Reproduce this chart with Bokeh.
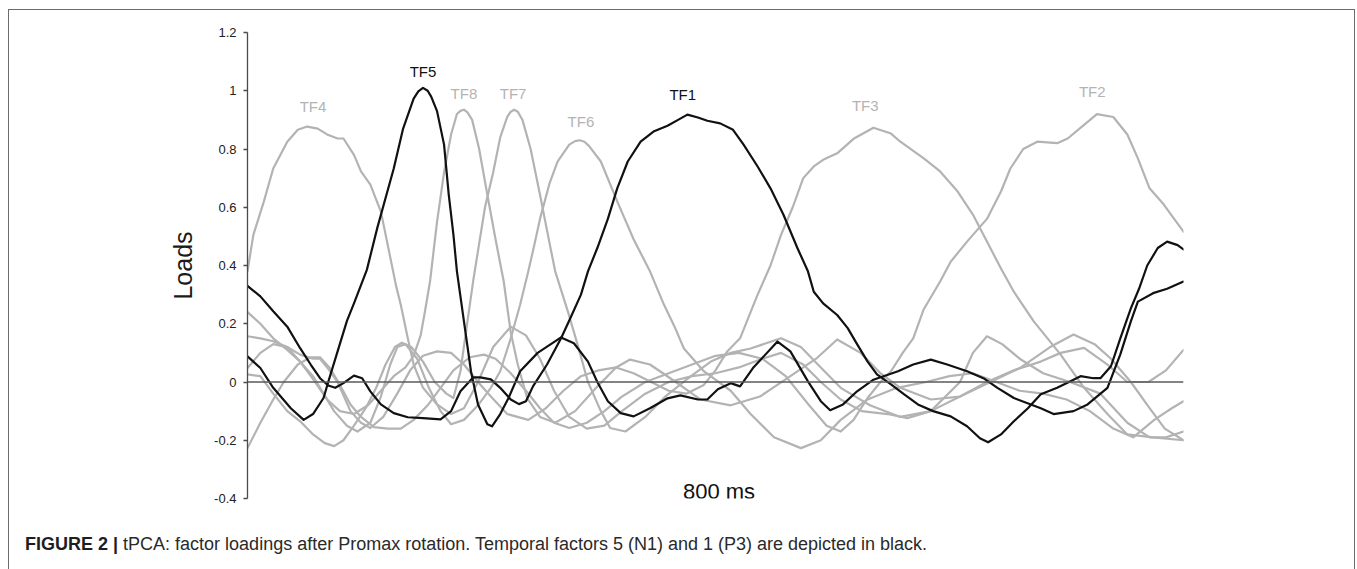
from bokeh.plotting import figure
from bokeh.models import Range1d, FixedTicker, Span, ColumnDataSource, Div
from bokeh.layouts import column
from bokeh.core.properties import value
from bokeh.embed import file_html
from bokeh.resources import INLINE

# ---- data: time (ms) and factor loadings ----
tf1_ms = [0,11,22,34,45,54,62,69,75,82,91,98,105,114,125,137,150,165,174,182,193,199,208,216,225,232,238,244,256,268,276,285,291,299,308,316,325,336,347,359,368,376,385,393,404,415,424,436,447,458,470,479,484,492,504,513,521,530,538,550,561,573,586,601,615,626,633,644,655,667,678,692,703,712,723,729,738,746,755,762,769,778,786,795,800]
tf1_val = [0.33,0.294,0.243,0.19,0.116,0.06,0.013,-0.012,-0.02,-0.004,0.022,0.013,-0.032,-0.077,-0.107,-0.121,-0.124,-0.128,-0.1,-0.032,0.016,0.016,0.009,-0.02,-0.06,-0.076,-0.066,-0.015,0.06,0.15,0.22,0.3,0.38,0.46,0.56,0.665,0.757,0.825,0.86,0.88,0.9,0.918,0.908,0.897,0.888,0.866,0.815,0.74,0.665,0.575,0.46,0.38,0.31,0.27,0.23,0.185,0.13,0.07,0.026,-0.008,-0.042,-0.077,-0.1,-0.118,-0.152,-0.193,-0.207,-0.18,-0.135,-0.09,-0.042,-0.02,0.002,0.02,0.013,0.013,0.054,0.15,0.253,0.32,0.40,0.46,0.482,0.47,0.455]

tf5_ms = [0,11,22,37,48,56,65,69,77,85,91,102,111,125,133,142,146,150,154,157,162,168,172,176,179,185,191,197,205,209,216,223,233,248,268,279,291,299,308,319,330,344,359,370,385,393,402,413,421,432,453,464,479,490,498,509,521,535,556,569,584,598,615,629,641,655,678,689,706,718,735,746,755,761,774,786,800]
tf5_val = [0.088,0.048,-0.02,-0.09,-0.13,-0.11,-0.055,0.0,0.105,0.21,0.27,0.385,0.53,0.733,0.87,0.973,0.998,1.01,1.0,0.98,0.93,0.815,0.643,0.506,0.38,0.208,0.037,-0.077,-0.145,-0.152,-0.11,-0.056,0.037,0.1,0.153,0.133,0.07,0.0,-0.066,-0.107,-0.118,-0.09,-0.056,-0.046,-0.06,-0.06,-0.025,-0.004,-0.015,0.048,0.139,0.105,0.002,-0.066,-0.097,-0.077,-0.032,0.008,0.037,0.06,0.077,0.06,0.037,0.013,-0.02,-0.055,-0.09,-0.11,-0.1,-0.077,-0.02,0.095,0.208,0.276,0.305,0.32,0.345]

tf4_ms = [0,5,14,22,34,43,51,60,68,77,82,91,97,105,114,121,127,131,137,142,150,162,174,185,197,210,225,238,250,262,275,290,305,320,340,360,380,400,420,440,456,475,490,507,525,547,564,584,609,632,655,678,695,715,735,752,770,785,800]
tf4_val = [0.38,0.505,0.62,0.733,0.825,0.866,0.877,0.87,0.85,0.836,0.836,0.78,0.723,0.678,0.585,0.448,0.33,0.265,0.15,0.06,-0.02,-0.077,-0.11,-0.09,0.0,0.12,0.19,0.16,0.08,-0.03,-0.12,-0.16,-0.15,-0.1,-0.04,0.0,0.02,0.03,0.05,0.08,0.1,0.06,0.0,-0.06,-0.1,-0.11,-0.124,-0.1,-0.05,0.0,0.04,0.07,0.1,0.117,0.06,0.0,0.0,0.04,0.11]

tf8_ms = [0,11,22,34,45,56,68,79,91,103,114,125,135,142,148,152,156,162,168,174,179,182,185,188,192,198,205,212,219,225,231,239,250,263,280,298,315,327,344,366,387,413,438,464,486,504,524,541,558,584,609,635,661,686,706,724,738,755,771,784,800]
tf8_val = [0.048,0.1,0.13,0.12,0.07,0.01,-0.06,-0.1,-0.11,-0.08,-0.03,0.02,0.05,0.09,0.16,0.25,0.345,0.55,0.72,0.85,0.92,0.931,0.935,0.926,0.9,0.8,0.643,0.49,0.345,0.17,0.06,-0.055,-0.12,-0.14,-0.1,-0.02,0.05,0.077,0.06,0.0,-0.06,-0.08,-0.05,0.02,0.08,0.146,0.1,0.03,-0.02,-0.06,-0.05,0.0,0.05,0.12,0.163,0.13,0.08,0.0,-0.09,-0.16,-0.2]

tf7_ms = [0,11,22,34,45,56,66,74,82,91,101,110,118,126,132,140,150,160,170,176,182,188,193,197,203,210,216,222,225,228,231,235,242,250,257,263,274,282,291,302,310,323,340,357,379,396,413,430,456,473,490,507,532,558,584,609,620,632,645,660,680,703,729,752,771,785,800]
tf7_val = [0.026,0.02,-0.04,-0.1,-0.135,-0.18,-0.21,-0.22,-0.2,-0.15,-0.09,-0.02,0.06,0.12,0.135,0.12,0.07,0.0,-0.04,-0.055,0.037,0.208,0.35,0.45,0.6,0.72,0.84,0.91,0.928,0.935,0.928,0.9,0.8,0.643,0.5,0.38,0.24,0.13,0.0,-0.1,-0.158,-0.17,-0.12,-0.05,0.02,0.07,0.1,0.115,0.15,0.12,0.05,-0.02,-0.08,-0.12,-0.1,0.0,0.1,0.157,0.13,0.08,0.03,0.0,-0.04,-0.14,-0.19,-0.19,-0.17]

tf6_ms = [0,11,22,34,45,56,65,74,85,94,105,114,122,128,135,145,155,165,174,185,197,208,216,225,233,240,244,250,258,265,275,280,284,288,292,302,316,330,344,356,365,373,390,413,430,450,473,490,507,530,555,580,600,620,640,660,680,700,720,740,757,775,790,800]
tf6_val = [0.24,0.2,0.15,0.11,0.07,0.02,-0.04,-0.1,-0.15,-0.17,-0.14,-0.05,0.06,0.12,0.13,0.08,-0.02,-0.1,-0.145,-0.13,-0.08,-0.02,0.037,0.15,0.265,0.38,0.45,0.56,0.68,0.757,0.815,0.827,0.83,0.825,0.81,0.757,0.62,0.49,0.38,0.265,0.19,0.115,0.037,-0.03,-0.11,-0.19,-0.227,-0.2,-0.13,-0.06,-0.02,0.0,0.02,0.03,0.0,-0.03,-0.04,-0.06,-0.1,-0.16,-0.19,-0.13,-0.09,-0.066]

tf3_ms = [0,11,22,34,45,56,62,70,77,88,97,105,116,128,139,150,162,174,185,197,208,222,240,255,270,285,300,315,330,345,360,375,390,400,410,421,430,436,447,456,466,475,484,492,504,518,535,550,558,578,592,607,620,632,644,655,672,695,715,735,752,774,800]
tf3_val = [0.157,0.15,0.14,0.12,0.094,0.08,0.08,0.04,0.0,-0.1,-0.14,-0.158,-0.12,-0.04,0.04,0.09,0.105,0.1,0.06,0.0,-0.05,-0.11,-0.13,-0.09,-0.03,0.02,0.04,0.05,0.03,0.0,-0.03,-0.04,-0.01,0.04,0.105,0.15,0.24,0.3,0.4,0.505,0.6,0.7,0.74,0.763,0.785,0.835,0.873,0.853,0.825,0.768,0.723,0.654,0.575,0.482,0.39,0.31,0.208,0.094,-0.02,-0.11,-0.18,-0.19,-0.2]

tf2_ms = [0,11,22,31,43,54,62,70,79,88,97,108,120,131,142,154,165,176,190,202,212,225,238,250,262,275,290,305,320,340,360,380,400,420,440,460,480,495,507,518,530,541,550,560,569,578,592,601,615,632,644,652,663,675,692,701,715,726,740,752,761,771,783,792,800]
tf2_val = [-0.227,-0.14,-0.06,0.0,0.06,0.085,0.085,0.05,-0.01,-0.077,-0.12,-0.155,-0.16,-0.16,-0.13,-0.08,-0.02,0.04,0.085,0.094,0.08,0.03,-0.03,-0.09,-0.14,-0.158,-0.14,-0.1,-0.05,0.0,0.03,0.06,0.09,0.1,0.08,0.02,-0.08,-0.15,-0.17,-0.13,-0.055,0.0,0.037,0.1,0.15,0.25,0.345,0.413,0.482,0.56,0.654,0.733,0.80,0.825,0.82,0.836,0.883,0.92,0.91,0.85,0.768,0.665,0.61,0.56,0.516]

label_names = ["TF4", "TF5", "TF8", "TF7", "TF6", "TF1", "TF3", "TF2"]
label_ms = [56, 150, 185, 227, 285, 372, 528, 722]
label_val = [0.945, 1.066, 0.99, 0.99, 0.894, 0.987, 0.95, 0.997]
label_black = ["TF5", "TF1"]

y_ticks = [-0.4, -0.2, 0, 0.2, 0.4, 0.6, 0.8, 1, 1.2]
y_tick_labels = ["-0.4", "-0.2", "0", "0.2", "0.4", "0.6", "0.8", "1", "1.2"]

time_note = "800 ms"
note_ms, note_val = 403, -0.375
caption_bold = "FIGURE 2 |"
caption_text = "tPCA: factor loadings after Promax rotation. Temporal factors 5 (N1) and 1 (P3) are depicted in black."

GRAY = "#b3b3b3"
BLACK = "#111111"
FONT = "Liberation Sans"
FRAME = "#6b6b6b"

W, H_PLOT, H_CAP = 1356, 522, 46
p = figure(width=W, height=H_PLOT,
           x_range=Range1d(0, 800), y_range=Range1d(-0.4, 1.2),
           x_axis_type=None, output_backend="svg", toolbar_location=None,
           min_border_left=247, min_border_right=W - 1183,
           min_border_top=32, min_border_bottom=H_PLOT - 498)
p.grid.visible = False
p.outline_line_color = None
p.background_fill_color = None
p.border_fill_color = None

ax = p.yaxis[0]
ax.ticker = FixedTicker(ticks=y_ticks)
ax.major_label_overrides = {t: s for t, s in zip(y_ticks, y_tick_labels)}
ax.axis_line_color = "#4a4a4a"
ax.axis_line_width = 1.3
ax.major_tick_line_color = "#4a4a4a"
ax.major_tick_line_width = 1.3
ax.major_tick_in = 0
ax.major_tick_out = 4
ax.minor_tick_line_color = None
ax.major_label_text_font = FONT
ax.major_label_text_font_size = "13px"
ax.major_label_text_color = "#222222"
ax.major_label_standoff = 7
ax.axis_label = "Loads"
ax.axis_label_text_font = FONT
ax.axis_label_text_font_size = "25px"
ax.axis_label_text_font_style = "normal"
ax.axis_label_text_color = "#1a1a1a"
ax.axis_label_standoff = 14

p.add_layout(Span(location=0, dimension="width", line_color="#5a5a5a", line_width=1.5))

gray_series = [(tf2_ms, tf2_val), (tf3_ms, tf3_val), (tf6_ms, tf6_val),
               (tf7_ms, tf7_val), (tf8_ms, tf8_val), (tf4_ms, tf4_val)]
black_series = [(tf5_ms, tf5_val), (tf1_ms, tf1_val)]
for xs, ys in gray_series:
    p.line(xs, ys, line_color=GRAY, line_width=2.2, line_join="round", line_cap="round")
for xs, ys in black_series:
    p.line(xs, ys, line_color=BLACK, line_width=2.2, line_join="round", line_cap="round")

lab_src = ColumnDataSource(dict(
    x=label_ms, y=label_val, t=label_names,
    c=[BLACK if n in label_black else GRAY for n in label_names]))
p.text(x="x", y="y", text="t", text_color="c", source=lab_src,
       text_font=value(FONT), text_font_size="15px",
       text_align="center", text_baseline="middle")

p.text(x=[note_ms], y=[note_val], text=[time_note], text_color=BLACK,
       text_font=value(FONT), text_font_size="22px",
       text_align="center", text_baseline="middle")

caption_html = (
    '<div style="position:absolute; left:20px; top:5px; white-space:nowrap; '
    "font-family:'Liberation Sans', Arial, sans-serif; font-size:18px; color:#2a2a2a;\">"
    '<b style="color:#1e1e1e">' + caption_bold + '</b> ' + caption_text + '</div>'
)
cap = Div(text=caption_html, width=W, height=H_CAP,
          styles={"position": "relative"})

frame_css = {
    "background-image": (f"linear-gradient({FRAME},{FRAME}), "
                         f"linear-gradient({FRAME},{FRAME}), "
                         f"linear-gradient({FRAME},{FRAME})"),
    "background-position": "8px 9px, 8px 9px, 1354px 9px",
    "background-size": "1px 100%, 1347px 1px, 1px 100%",
    "background-repeat": "no-repeat",
    "background-color": "white",
}
layout = column(p, cap, spacing=0, styles=frame_css)

open("out.html", "w").write(file_html(layout, INLINE))
